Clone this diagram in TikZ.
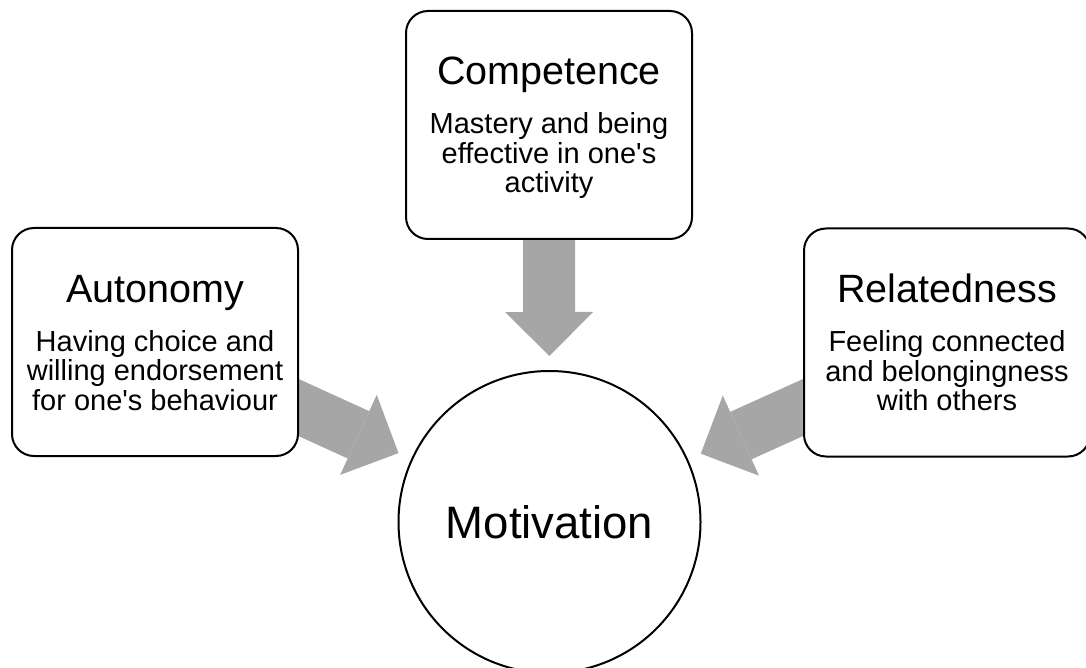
\documentclass[tikz,border=0pt]{standalone}
\usepackage{fontspec}
\setmainfont{Liberation Sans}
\usetikzlibrary{arrows.meta,calc,backgrounds}
\definecolor{arrowgray}{RGB}{166,166,166}
\tikzset{
  needbox/.style={draw=black, line width=2pt, fill=white, rounded corners=22pt,
    minimum width=286pt, minimum height=228pt, inner sep=0pt},
  needtitle/.style={anchor=base, inner sep=0pt, font=\fontsize{39.5}{44}\selectfont},
  % base anchor of a multi-line node sits on its last line
  needbody/.style={anchor=base, inner sep=0pt, align=center, font=\fontsize{29}{29.5}\selectfont},
  hub/.style={circle, draw=black, line width=2pt, fill=white, minimum size=302pt,
    inner sep=0pt, font=\fontsize{45.5}{50}\selectfont},
  push/.style={draw=arrowgray, line width=52pt,
    -{Triangle[width=88pt,length=44pt,line width=0pt]}},
}
\begin{document}
\begin{tikzpicture}[x=1pt,y=-1pt]
\useasboundingbox (0,0) rectangle (1086,668);

% central hub and the three needs
\node[hub] (mot) at (549.5,522) {Motivation};
\node[needbox] (comp) at (549,125) {};
\node[needbox] (auto) at (155,342) {};
\node[needbox] (rel) at (947,342.5) {};

\node[needtitle] (compT) at ($(comp.north)+(0,75)$) {Competence};
\node[needbody] (compB) at ($(comp.north)+(0,183)$)
  {Mastery and being\\effective in one\textquotesingle s\\activity};

\node[needtitle] (autoT) at ($(auto.north)+(0,75)$) {Autonomy};
\node[needbody] (autoB) at ($(auto.north)+(0,183)$)
  {Having choice and\\willing endorsement\\for one\textquotesingle s behaviour};

\node[needtitle] (relT) at ($(rel.north)+(0,75)$) {Relatedness};
\node[needbody] (relB) at ($(rel.north)+(0,183)$)
  {Feeling connected\\and belongingness\\with others};

% block arrows pointing from each need towards the hub
\begin{scope}[on background layer]
  \fill[white] (0,0) rectangle (1086,668);
  \draw[push] (comp.center) -- ($(mot.center)!166pt!(comp.center)$);
  \draw[push] (auto.center) -- ($(mot.center)!166pt!(auto.center)$);
  \draw[push] (rel.center) -- ($(mot.center)!166pt!(rel.center)$);
\end{scope}
\end{tikzpicture}
\end{document}
